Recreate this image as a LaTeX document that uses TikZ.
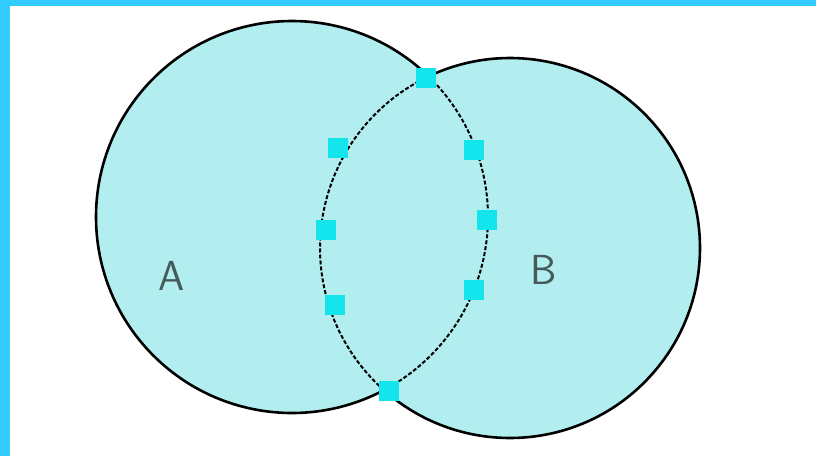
\documentclass[tikz,border=0pt]{standalone}
\begin{document}
\begin{tikzpicture}[x=1pt,y=-1pt,
  outline/.style={draw=black, line width=2.6pt},
  innerarc/.style={draw=black, line width=2pt, dash pattern=on 4pt off 2pt},
  marker/.style={fill=markcyan, minimum size=20pt, inner sep=0pt, draw=none, rectangle},
  lbl/.style={text=labelgray, font=\sffamily\fontsize{42}{42}\selectfont, inner sep=0pt}]
\definecolor{bandcyan}{RGB}{51,204,255}
\definecolor{fillcyan}{RGB}{178,238,240}
\definecolor{markcyan}{RGB}{20,228,236}
\definecolor{labelgray}{RGB}{70,90,90}
\useasboundingbox (0,0) rectangle (816,456);
\fill[white] (0,0) rectangle (816,456);
\fill[bandcyan] (0,0) rectangle (816,6);
\fill[bandcyan] (0,0) rectangle (10,456);
\coordinate (ca) at (292,217);
\coordinate (cb) at (510,248);
\fill[fillcyan] (ca) circle[radius=196];
\fill[fillcyan] (cb) circle[radius=190];
% outer outlines
\draw[outline] (ca) ++(-45.8:196) arc[start angle=-45.8, end angle=-298, radius=196];
\draw[outline] (cb) ++(131.6:190) arc[start angle=131.6, end angle=-115.4, radius=190];
% inner lens arcs
\draw[innerarc] (ca) ++(-45.8:196) arc[start angle=-45.8, end angle=62, radius=196];
\draw[innerarc] (cb) ++(131.6:190) arc[start angle=131.6, end angle=244.6, radius=190];
% markers
\node[marker] (mtop) at (426,78) {};
\node[marker] (mbot) at (389,391) {};
\node[marker] (ml1) at (338,148) {};
\node[marker] (ml2) at (326,230) {};
\node[marker] (ml3) at (335,305) {};
\node[marker] (mr1) at (474,150) {};
\node[marker] (mr2) at (487,220) {};
\node[marker] (mr3) at (474,290) {};
% labels
\node[lbl] (la) at (172,276) {A};
\node[lbl] (lb) at (544,270) {B};
\end{tikzpicture}
\end{document}
